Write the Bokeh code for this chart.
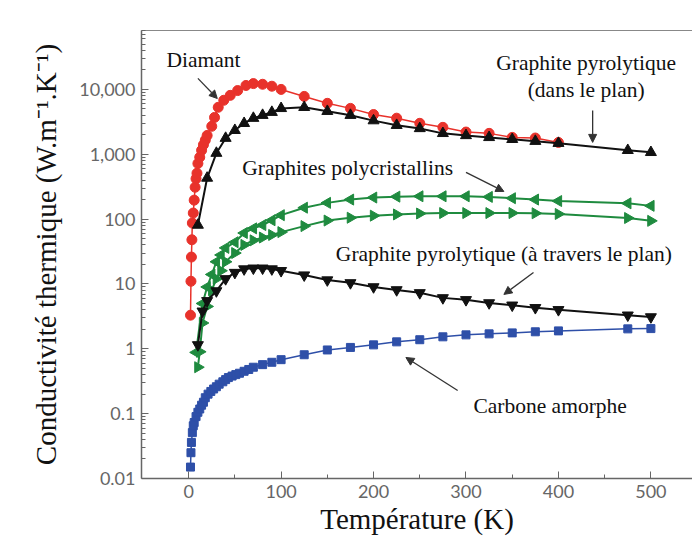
import numpy as np
from bokeh.plotting import figure
from bokeh.models import Range1d, LinearAxis, FixedTicker, Arrow, NormalHead, Label
from bokeh.embed import file_html
from bokeh.resources import INLINE

# ---------------- data ----------------
diamant_T = [2, 2.5, 3, 3.5, 4, 5, 6, 7, 8, 9, 10, 12, 14, 16, 18, 20, 25, 28, 32, 38, 45,
             53, 62, 70, 80, 90, 100, 125, 150, 175, 200, 225, 250, 275, 300, 325, 350, 375, 400]
diamant_k = [3.3, 11, 26, 48, 87, 124, 196, 310, 420, 510, 720, 900, 1150, 1400, 1650, 1950,
             2700, 3700, 5300, 6800, 8100, 9600, 11500, 12300, 12000, 11200, 10000, 7800, 6100,
             5100, 4100, 3600, 3000, 2600, 2200, 2100, 1820, 1780, 1520]

pyro_in_T = [10, 20, 30, 40, 50, 60, 70, 80, 90, 100, 125, 150, 175, 200, 225, 250, 275,
             300, 325, 350, 375, 400, 475, 500]
pyro_in_k = [81, 430, 1040, 1770, 2340, 3000, 3600, 4000, 4450, 5100, 5300, 4600, 4000, 3300,
             2800, 2500, 2100, 1950, 1820, 1700, 1590, 1480, 1150, 1070]

poly1_T = [8, 15, 20, 25, 30, 35, 40, 50, 60, 70, 80, 90, 100, 125, 150, 175, 200, 225, 250,
           275, 300, 325, 350, 375, 400, 475, 500]
poly1_k = [0.88, 5.0, 9, 14, 22, 28, 36, 44, 61, 72, 81, 96, 115, 150, 178, 200, 215, 222, 225,
           225, 225, 220, 210, 200, 190, 175, 160]

poly2_T = [10, 12, 15, 20, 25, 30, 35, 40, 50, 60, 70, 80, 90, 100, 125, 150, 175, 200, 225,
           250, 275, 300, 325, 350, 375, 400, 475, 500]
poly2_k = [0.52, 0.9, 2.5, 4.5, 8, 12, 16, 22, 30, 40, 47, 52, 57, 63, 78, 95, 105, 113, 118,
           122, 124, 124, 124, 124, 123, 120, 104, 94]

pyro_cross_T = [10, 15, 20, 30, 40, 50, 60, 70, 80, 90, 100, 125, 150, 175, 200, 225, 250, 275,
                300, 325, 350, 375, 400, 475, 500]
pyro_cross_k = [1.15, 3.8, 5.5, 7.8, 12, 15, 17, 17.5, 17.5, 17, 16, 13.7, 11.5, 10.4, 9, 8.1,
                7.3, 6.1, 5.7, 5.1, 4.7, 4.3, 4.0, 3.3, 3.1]

amorphe_T = [2, 2.5, 3, 4, 5, 6, 8, 10, 12, 14, 16, 18, 21, 24, 27, 30, 33, 37, 40, 43, 47, 51,
             55, 60, 65, 70, 80, 90, 100, 125, 150, 175, 200, 225, 250, 275, 300, 325, 350, 375,
             400, 475, 500]
amorphe_k = [0.015, 0.025, 0.036, 0.051, 0.065, 0.073, 0.09, 0.105, 0.118, 0.135, 0.15, 0.176,
             0.2, 0.22, 0.24, 0.26, 0.285, 0.31, 0.335, 0.36, 0.38, 0.4, 0.42, 0.45, 0.48, 0.52,
             0.57, 0.62, 0.68, 0.81, 0.96, 1.05, 1.15, 1.28, 1.38, 1.53, 1.64, 1.7, 1.76, 1.83,
             1.89, 2.03, 2.05]

x_ticks = [0, 100, 200, 300, 400, 500]
y_ticks = [0.01, 0.1, 1, 10, 100, 1000, 10000]
y_tick_labels = ["0.01", "0.1", "1", "10", "100", "1,000", "10,000"]

# ---------------- styles ----------------
RED = "#e8322b"
GREEN = "#1f8b3f"
BLUE = "#2e4fa8"
BLACK = "#111111"
AXIS = "#666666"
SERIF = "Liberation Serif"
SANS = "Lato"

p = figure(width=692, height=542, x_range=Range1d(-51, 545), y_range=Range1d(0.01, 81000),
           y_axis_type="log", output_backend="svg", toolbar_location=None,
           min_border_left=141, min_border_right=0, min_border_top=30, min_border_bottom=64)
p.grid.visible = False
p.outline_line_color = None
p.background_fill_color = "white"

# axes
p.xaxis.ticker = FixedTicker(ticks=x_ticks, minor_ticks=[50, 150, 250, 350, 450])
minor_y = [m * 10.0 ** k for k in range(-2, 5) for m in range(2, 10)]
p.yaxis.ticker = FixedTicker(ticks=y_ticks, minor_ticks=minor_y)
p.yaxis.major_label_overrides = {v: s for v, s in zip(y_ticks, y_tick_labels)}

for ax in (p.xaxis[0], p.yaxis[0]):
    ax.axis_line_color = AXIS
    ax.axis_line_width = 1.5
    ax.major_tick_line_color = AXIS
    ax.minor_tick_line_color = AXIS
    ax.major_tick_in = 7
    ax.major_tick_out = 0
    ax.minor_tick_in = 4
    ax.minor_tick_out = 0
    ax.major_label_text_font = SANS
    ax.major_label_text_font_size = "18px"
    ax.major_label_text_color = AXIS
    ax.major_label_standoff = 6
    ax.axis_label_text_font = SERIF
    ax.axis_label_text_font_size = "29px"
    ax.axis_label_text_font_style = "normal"
    ax.axis_label_text_color = "#111111"

p.xaxis.axis_label = "Température (K)"
p.yaxis.axis_label = "Conductivité thermique (W.m⁻¹.K⁻¹)"
p.xaxis.axis_label_standoff = 2
p.yaxis.axis_label_standoff = 14

top = LinearAxis(ticker=FixedTicker(ticks=[]), axis_line_color="#888888", axis_line_width=1.2,
                 major_label_text_font_size="0px", major_tick_line_color=None,
                 minor_tick_line_color=None)
p.add_layout(top, "above")

# ---------------- series ----------------
p.line(amorphe_T, amorphe_k, color=BLUE, line_width=1.5)
p.scatter(amorphe_T, amorphe_k, marker="square", size=8, color=BLUE)

p.line(poly1_T, poly1_k, color=GREEN, line_width=2)
p.scatter(poly1_T, poly1_k, marker="triangle", angle=np.pi / 2, size=11, color=GREEN)
p.line(poly2_T, poly2_k, color=GREEN, line_width=2)
p.scatter(poly2_T, poly2_k, marker="triangle", angle=-np.pi / 2, size=11, color=GREEN)

p.line(pyro_cross_T, pyro_cross_k, color=BLACK, line_width=2)
p.scatter(pyro_cross_T, pyro_cross_k, marker="inverted_triangle", size=11, color=BLACK)

p.line(diamant_T, diamant_k, color=RED, line_width=1.5)
p.scatter(diamant_T, diamant_k, marker="circle", size=10, color=RED)

p.line(pyro_in_T, pyro_in_k, color=BLACK, line_width=2)
p.scatter(pyro_in_T, pyro_in_k, marker="triangle", size=11, color=BLACK)

# ---------------- annotations ----------------
def label(x, y, text):
    p.add_layout(Label(x=x, y=y, text=text, text_font=SERIF, text_font_size="21.5px",
                       text_align="center", text_baseline="middle", text_color="#111111"))

def arrow(x0, y0, x1, y1):
    p.add_layout(Arrow(end=NormalHead(size=8, fill_color="#333333", line_color="#333333"),
                       x_start=x0, y_start=y0, x_end=x1, y_end=y1,
                       line_color="#333333", line_width=1.3))

label(16, 28000, "Diamant")
arrow(10, 14800, 31, 7240)

label(430, 25200, "Graphite pyrolytique")
label(430, 9700, "(dans le plan)")
arrow(437, 4750, 437, 1525)

label(172, 605, "Graphites polycristallins")
arrow(300, 525, 341, 267)

label(341, 28.5, "Graphite pyrolytique (à travers le plan)")
arrow(373, 15, 341, 6.9)

label(391, 0.133, "Carbone amorphe")
arrow(291, 0.227, 235, 0.735)

open("out.html", "w").write(file_html(p, INLINE))
